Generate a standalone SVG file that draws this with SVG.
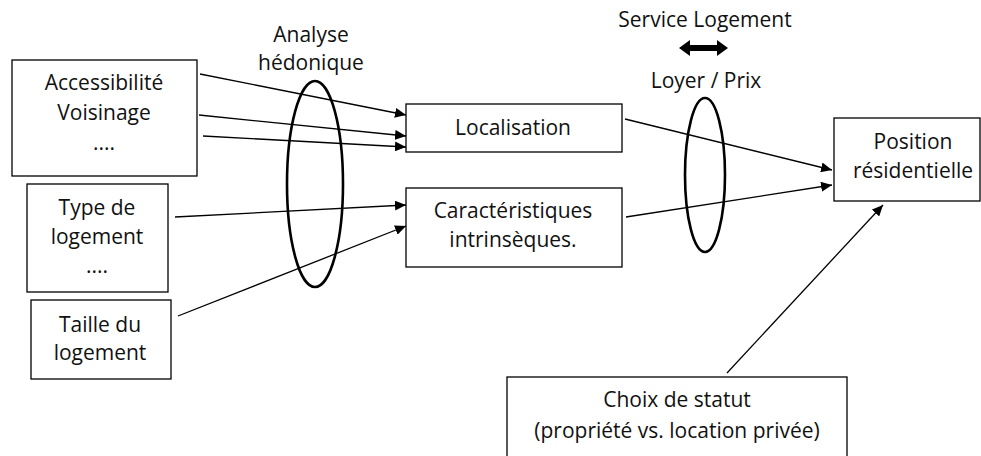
<svg xmlns="http://www.w3.org/2000/svg" width="981" height="456" viewBox="0 0 981 456">
  <defs>
    <marker id="arrow" markerUnits="userSpaceOnUse" markerWidth="12" markerHeight="10" refX="11" refY="5" orient="auto">
      <path d="M0,0 L11,5 L0,10 Z" fill="#000"/>
    </marker>
    <style>
      .box { fill: #fff; stroke: #000; stroke-width: 1.3; }
      .lens { fill: none; stroke: #000; stroke-width: 2.6; }
      .link { fill: none; stroke: #000; stroke-width: 1.3; marker-end: url(#arrow); }
      text { font-family: "Open Sans", "Noto Sans", sans-serif; font-size: 21px; fill: #111; text-anchor: middle; }
    </style>
  </defs>
  <rect width="981" height="456" fill="#fff"/>

  <!-- attribute groups -->
  <g id="acces">
    <rect class="box" x="12" y="60" width="185" height="116"/>
    <text x="104" y="90">Accessibilité</text>
    <text x="104" y="120">Voisinage</text>
    <text x="104" y="150">....</text>
  </g>
  <g id="type">
    <rect class="box" x="27" y="184" width="141" height="108"/>
    <text x="97" y="215">Type de</text>
    <text x="97" y="244">logement</text>
    <text x="97" y="273">....</text>
  </g>
  <g id="taille">
    <rect class="box" x="31" y="300" width="140" height="79"/>
    <text x="100" y="332">Taille du</text>
    <text x="100" y="360">logement</text>
  </g>

  <!-- intermediate dimensions -->
  <g id="localisation">
    <rect class="box" x="406" y="104" width="216" height="48"/>
    <text x="513" y="135">Localisation</text>
  </g>
  <g id="caracteristiques">
    <rect class="box" x="406" y="188" width="216" height="79"/>
    <text x="513" y="218">Caractéristiques</text>
    <text x="513" y="247">intrinsèques.</text>
  </g>

  <!-- outcome -->
  <g id="position">
    <rect class="box" x="834" y="118" width="146" height="83"/>
    <text x="913" y="149">Position</text>
    <text x="913" y="178">résidentielle</text>
  </g>
  <g id="statut">
    <rect class="box" x="507" y="377" width="340" height="90"/>
    <text x="677" y="407">Choix de statut</text>
    <text x="677" y="438">(propriété vs. location privée)</text>
  </g>

  <!-- hedonic analysis lens -->
  <g id="hedonique">
    <ellipse class="lens" cx="315" cy="184" rx="28" ry="103"/>
    <text x="311" y="42">Analyse</text>
    <text x="311" y="70">hédonique</text>
  </g>

  <!-- rent / price lens -->
  <g id="loyer">
    <ellipse class="lens" cx="705" cy="175" rx="20" ry="77"/>
    <text x="705" y="27">Service Logement</text>
    <path d="M679,48 L690,40 L690,45 L717,45 L717,40 L728,48 L717,56 L717,51 L690,51 L690,56 Z" fill="#000"/>
    <text x="706" y="88">Loyer / Prix</text>
  </g>

  <!-- connectors -->
  <g id="connectors">
    <line class="link" x1="200" y1="74" x2="406" y2="115"/>
    <line class="link" x1="199" y1="115" x2="406" y2="136"/>
    <line class="link" x1="203" y1="136" x2="406" y2="147"/>
    <line class="link" x1="175" y1="217" x2="406" y2="205"/>
    <line class="link" x1="178" y1="316" x2="406" y2="226"/>
    <line class="link" x1="625" y1="119" x2="832" y2="170"/>
    <line class="link" x1="626" y1="217" x2="832" y2="185"/>
    <line class="link" x1="727" y1="373" x2="883" y2="205"/>
  </g>
</svg>
